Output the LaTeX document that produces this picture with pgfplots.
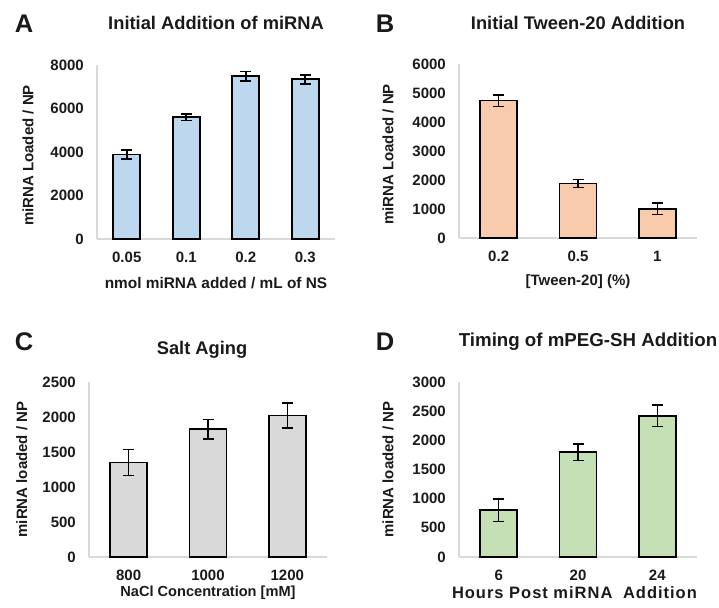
\documentclass[border=0pt]{standalone}
\usepackage{pgfplots}
\pgfplotsset{compat=1.18}
\usepackage{fontspec}
\setmainfont{Liberation Sans}
\definecolor{txt}{HTML}{1A1A1A}
\definecolor{axgray}{HTML}{D9D9D9}
\definecolor{cA}{HTML}{BDD7EE}
\definecolor{cB}{HTML}{F8CBAD}
\definecolor{cC}{HTML}{D9D9D9}
\definecolor{cD}{HTML}{C5E0B4}
\newcommand{\tk}{\fontsize{15}{17}\selectfont\bfseries}
\newcommand{\ttl}{\fontsize{18.3}{21}\selectfont\bfseries}
\newcommand{\lab}{\fontsize{15}{17}\selectfont\bfseries}
\newcommand{\letr}{\fontsize{25.5}{29}\selectfont\bfseries}
\pgfplotsset{
  panel/.style={
    scale only axis, width=238pt,
    axis x line*=bottom, axis y line*=left,
    axis line style={draw=axgray, line width=1.2pt, -},
    major tick length=0pt, tick style={draw=none},
    /pgf/number format/assume math mode=true,
    /pgf/number format/1000 sep={},
    enlargelimits=false, ymin=0,
    ticklabel style={font=\tk, text=txt, inner sep=0pt},
    yticklabel shift=13pt, xticklabel shift=13pt,
    title style={font=\ttl, text=txt, anchor=center, yshift=0pt},
    xlabel style={font=\lab, text=txt, anchor=center},
    ylabel style={font=\lab, text=txt, anchor=center},
    clip=false,
  },
  barstyle/.style={ybar, bar width=#1, draw=black, line width=1.7pt,
    /pgfplots/error bars/y dir=both, /pgfplots/error bars/y explicit,
    /pgfplots/error bars/error bar style={line width=1.6pt, black},
    /pgfplots/error bars/error mark options={rotate=90, mark size=5.5pt, line width=1.6pt, black}},
}
\begin{document}
\begin{tikzpicture}
\path[use as bounding box] (0pt,0pt) rectangle (719pt,607pt);
% Panel A
\node[font=\letr, text=txt] at (24pt,583pt) {A};
\begin{axis}[panel, at={(97pt,368pt)}, anchor=south west, height=174pt,
  ymax=8000, ytick={0,2000,4000,6000,8000},
  xmin=-0.5, xmax=3.5, xtick={0,1,2,3}, xticklabels={0.05,0.1,0.2,0.3},
  title={Initial Addition of miRNA}, title style={at={(axis description cs:0.5,1.205)}},
  xlabel={nmol miRNA added / mL of NS}, xlabel style={font=\fontsize{15.4}{17}\selectfont\bfseries, at={(axis description cs:0.5,-0.253)}},
  ylabel={miRNA Loaded / NP}, ylabel style={at={(axis description cs:-0.290,0.48)}}]
\addplot[fill=cA, barstyle=27pt] coordinates {(0,3890) +- (0,200) (1,5600) +- (0,155) (2,7480) +- (0,215) (3,7340) +- (0,208)};
\end{axis}
% Panel B
\node[font=\letr, text=txt] at (385pt,583pt) {B};
\begin{axis}[panel, at={(459pt,369pt)}, anchor=south west, height=174pt,
  ymax=6000, ytick={0,1000,...,6000},
  xmin=-0.5, xmax=2.5, xtick={0,1,2}, xticklabels={0.2,0.5,1},
  title={Initial Tween-20 Addition}, title style={at={(axis description cs:0.5,1.2)}},
  xlabel={[Tween-20] (\%)}, xlabel style={at={(axis description cs:0.5,-0.253)}},
  ylabel={miRNA Loaded / NP}, ylabel style={at={(axis description cs:-0.298,0.48)}}]
\addplot[fill=cB, barstyle=37pt] coordinates {(0,4740) +- (0,200) (1,1880) +- (0,143) (2,1010) +- (0,200)};
\end{axis}
% Panel C
\node[font=\letr, text=txt] at (24pt,265pt) {C};
\begin{axis}[panel, at={(89pt,50pt)}, anchor=south west, height=175pt,
  ymax=2500, ytick={0,500,...,2500},
  xmin=-0.5, xmax=2.5, xtick={0,1,2}, xticklabels={800,1000,1200},
  title={Salt Aging}, title style={at={(axis description cs:0.475,1.15)}},
  xlabel={NaCl Concentration [mM]}, xlabel style={font=\fontsize{14.6}{16}\selectfont\bfseries, at={(axis description cs:0.5,-0.206)}},
  ylabel={miRNA loaded / NP}, ylabel style={at={(axis description cs:-0.282,0.5)}}]
\addplot[fill=cC, barstyle=37pt] coordinates {(0,1350) +- (0,186) (1,1825) +- (0,139) (2,2020) +- (0,180)};
\end{axis}
% Panel D
\node[font=\letr, text=txt] at (385pt,265pt) {D};
\begin{axis}[panel, at={(459pt,50pt)}, anchor=south west, height=175pt,
  ymax=3000, ytick={0,500,...,3000},
  xmin=-0.5, xmax=2.5, xtick={0,1,2}, xticklabels={6,20,24},
  title={Timing of mPEG-SH Addition}, title style={font=\fontsize{18.7}{21}\selectfont\bfseries, at={(axis description cs:0.542,1.195)}},
  xlabel={Hours Post miRNA\hspace{5pt} Addition}, xlabel style={font=\fontsize{16.5}{19}\selectfont\bfseries\addfontfeature{LetterSpace=6}, at={(axis description cs:0.485,-0.206)}},
  ylabel={miRNA loaded / NP}, ylabel style={at={(axis description cs:-0.298,0.5)}}]
\addplot[fill=cD, barstyle=37pt] coordinates {(0,800) +- (0,192) (1,1795) +- (0,138) (2,2420) +- (0,186)};
\end{axis}
\end{tikzpicture}
\end{document}
